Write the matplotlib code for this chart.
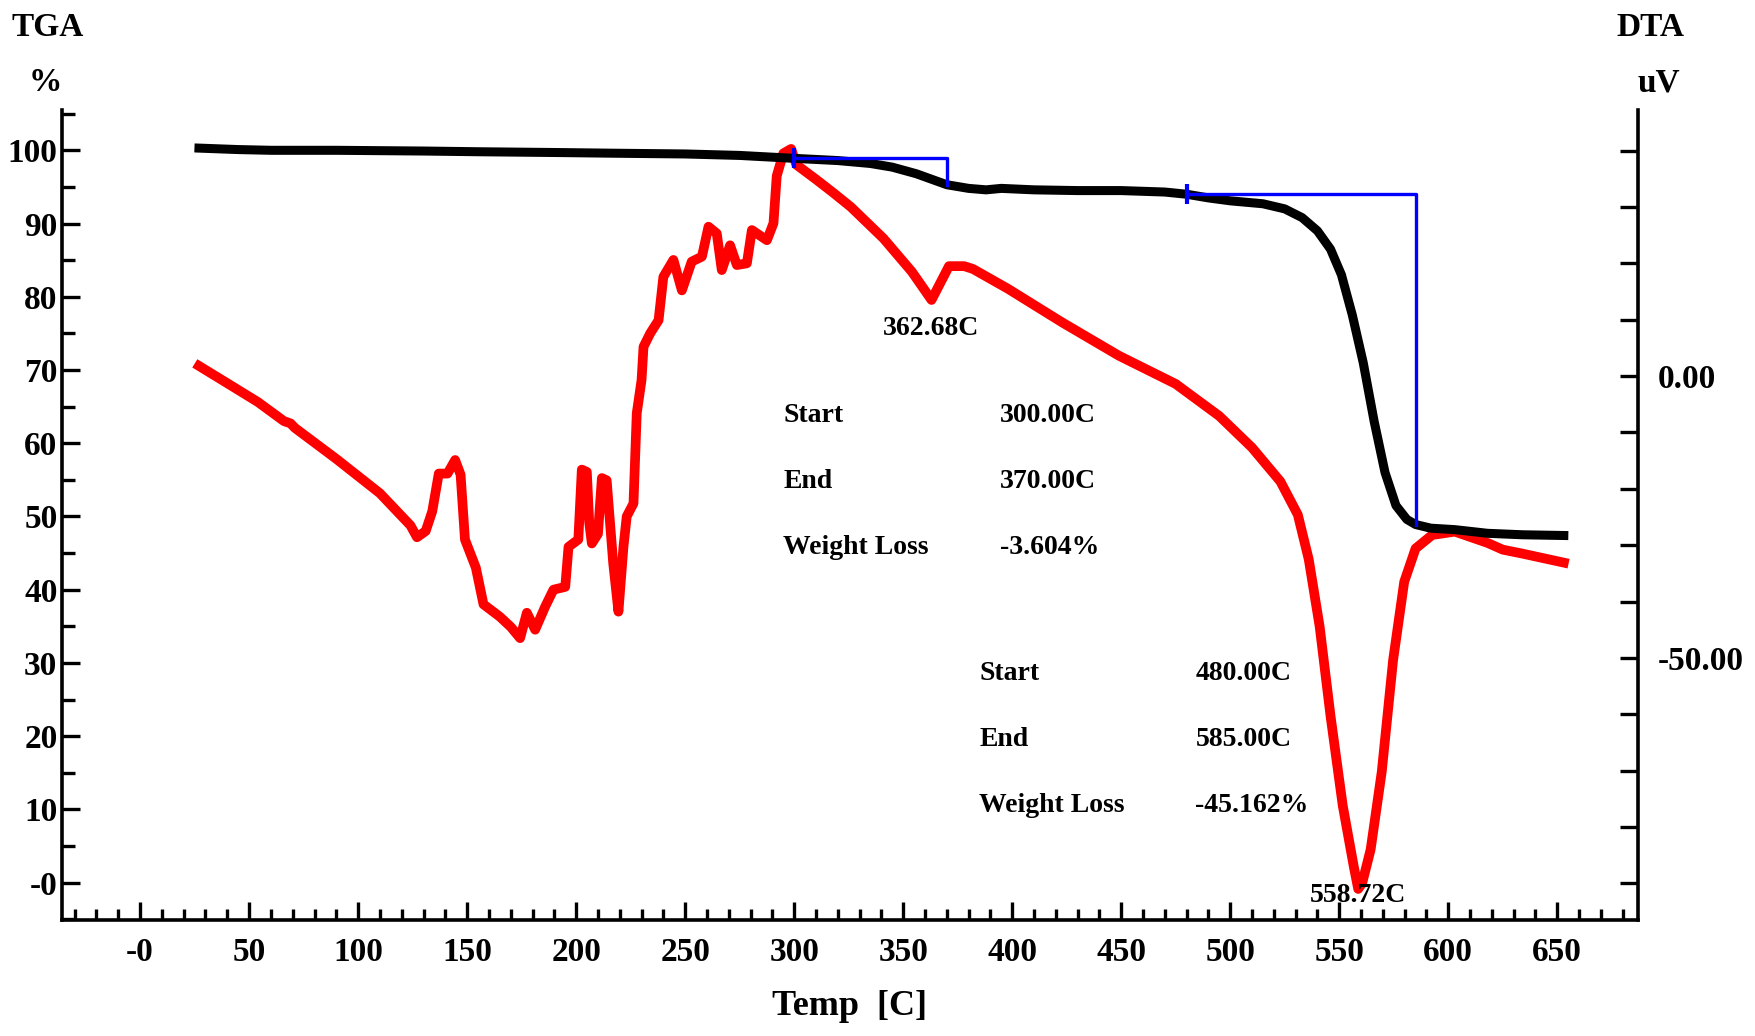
import matplotlib
matplotlib.use("Agg")
import matplotlib.pyplot as plt
from matplotlib.ticker import MultipleLocator, FixedLocator, FixedFormatter

plt.rcParams['font.family'] = ['Liberation Serif', 'DejaVu Serif']
plt.rcParams['font.weight'] = 'bold'

# TGA curve, weight %
tga_temp = [27, 45, 60, 90, 130, 156, 190, 218, 250, 275, 300, 320, 335, 345, 356,
            370, 380, 388, 395, 410, 430, 450, 470, 480, 490, 500, 515, 525, 533,
            540, 546, 551, 556, 561, 566, 571, 576, 581, 585, 592, 603, 618, 634, 653]
tga_wt = [100.3, 100.1, 100.0, 100.0, 99.9, 99.8, 99.7, 99.6, 99.5, 99.3, 98.9, 98.6,
          98.2, 97.7, 96.8, 95.3, 94.8, 94.6, 94.8, 94.6, 94.5, 94.5, 94.3, 94.0, 93.5,
          93.1, 92.7, 92.0, 90.8, 89.0, 86.5, 83.0, 77.5, 71.0, 63.0, 56.0, 51.5, 49.6,
          48.9, 48.4, 48.2, 47.7, 47.5, 47.4]

# DTA curve, uV
dta_temp = [27, 38, 54, 66, 69, 71, 90, 110, 124, 127, 131, 134, 137, 141, 144.5, 147,
            149, 154, 157.5, 165, 170, 174.3, 177.4, 181.2, 185.8, 189.6, 195, 196.5,
            201, 202.6, 204.9, 206, 207.2, 210, 211.8, 214, 217, 219.4, 221.7, 223.2,
            226.3, 227.8, 230, 230.9, 234, 237.8, 240, 244.6, 248.5, 253, 257.7, 260.7,
            264.5, 266.8, 270.6, 273.7, 278.3, 280.6, 287.5, 290.5, 292, 295, 298.6,
            301, 310, 318, 326, 341, 354, 363, 367, 371, 378, 382, 398, 423, 449, 475,
            495, 510, 523, 531, 536, 541, 546, 551.6, 556.7, 558.7, 560.5, 564.4,
            569.5, 574.7, 579.8, 585, 592.6, 603, 618, 625, 634, 653]
dta_uv = [1.8, -0.8, -4.6, -8.0, -8.4, -9.2, -14.7, -20.8, -26.5, -28.6, -27.5, -24.0,
          -17.3, -17.3, -14.9, -17.5, -29.0, -34.0, -40.5, -42.7, -44.5, -46.5, -42.0,
          -45.0, -40.9, -37.9, -37.4, -30.3, -29.0, -16.6, -17.0, -26.0, -29.7, -28.0,
          -18.1, -18.5, -33.2, -41.8, -30.3, -24.9, -22.6, -6.6, -0.7, 5.2, 7.6, 9.9,
          17.6, 20.6, 15.2, 20.3, 21.2, 26.5, 25.3, 18.8, 23.2, 19.7, 20.0, 25.9, 24.1,
          27.1, 35.5, 39.5, 40.3, 37.5, 34.9, 32.5, 30.0, 24.4, 18.5, 13.5, 16.5, 19.5,
          19.5, 19.0, 15.5, 9.5, 3.6, -1.4, -7.1, -12.7, -18.7, -24.6, -32.5, -44.4,
          -60.3, -76.2, -87.1, -91.0, -90.0, -84.0, -70.2, -50.4, -36.5, -30.6, -28.2,
          -27.6, -29.6, -30.8, -31.5, -33.1]

# weight loss steps
step_start = [300.0, 480.0]
step_end = [370.0, 585.0]
step_level = [98.9, 94.0]
step_loss = [3.604, 45.162]

# DTA peaks
peak_temp = [362.68, 558.72]

x_ticks = list(range(0, 651, 50))
x_tick_labels = ['-0'] + [str(v) for v in x_ticks[1:]]
y_ticks = list(range(0, 101, 10))
y_tick_labels = ['-0'] + [str(v) for v in y_ticks[1:]]
dta_ticks = [0.0, -50.0]
dta_tick_labels = ['0.00', '-50.00']

fig = plt.figure(figsize=(17.55, 10.36), dpi=100)
ax = fig.add_axes([0.0351, 0.112, 0.8982, 0.7818])
ax2 = ax.twinx()
ax.set_zorder(ax2.get_zorder() + 1)
ax.patch.set_visible(False)

ax2.plot(dta_temp, dta_uv, color='#ff0000', lw=7)
ax.plot(tga_temp, tga_wt, color='black', lw=6.5)

for s, e, lev, loss in zip(step_start, step_end, step_level, step_loss):
    ax.plot([s, e, e], [lev, lev, lev - loss], color='#0000ff', lw=2.4)
    ax.plot([s], [lev], marker='|', color='#0000ff', markersize=14, mew=3)

ax.set_xlim(-36, 687)
ax.set_ylim(-5.1, 105.5)
ax2.set_ylim(-96.5, 47.2)

for a in (ax, ax2):
    a.spines['top'].set_visible(False)
ax.spines['right'].set_visible(False)
ax2.spines['left'].set_visible(False)
ax2.spines['bottom'].set_visible(False)
for sp in ('left', 'bottom'):
    ax.spines[sp].set_linewidth(2.6)
ax2.spines['right'].set_linewidth(2.6)

ax.xaxis.set_major_locator(FixedLocator(x_ticks))
ax.xaxis.set_major_formatter(FixedFormatter(x_tick_labels))
ax.xaxis.set_minor_locator(MultipleLocator(10))
ax.yaxis.set_major_locator(FixedLocator(y_ticks))
ax.yaxis.set_major_formatter(FixedFormatter(y_tick_labels))
ax.yaxis.set_minor_locator(MultipleLocator(5))
ax2.yaxis.set_major_locator(FixedLocator(dta_ticks))
ax2.yaxis.set_major_formatter(FixedFormatter(dta_tick_labels))
ax2.yaxis.set_minor_locator(MultipleLocator(10))

ax.tick_params(axis='x', which='major', direction='in', length=13, width=2.4,
               labelsize=24, pad=12)
ax.tick_params(axis='x', which='minor', direction='in', length=8, width=2.4)
ax.tick_params(axis='y', which='major', direction='in', length=13, width=2.4,
               labelsize=24, pad=3)
ax.tick_params(axis='y', which='minor', direction='in', length=9, width=2.4)
ax2.tick_params(axis='y', which='major', direction='in', length=13, width=2.4,
                labelsize=24, pad=14)
ax2.tick_params(axis='y', which='minor', direction='in', length=13, width=2.4)

ax.set_xlabel('Temp  [C]', fontsize=26, fontweight='bold', labelpad=16)

fig.text(0.027, 0.973, 'TGA', fontsize=24, ha='center', va='center')
fig.text(0.0256, 0.92, '%', fontsize=24, ha='center', va='center')
fig.text(0.9407, 0.973, 'DTA', fontsize=24, ha='center', va='center')
fig.text(0.945, 0.92, 'uV', fontsize=24, ha='center', va='center')

# annotation blocks
block_x = [(295, 394.5), (385, 484)]
block_y = [(63.8, 54.8, 45.8), (28.5, 19.6, 10.5)]
for (lx, vx), ys, s, e, loss in zip(block_x, block_y, step_start, step_end, step_loss):
    rows = [('Start', f'{s:.2f}C'), ('End', f'{e:.2f}C'), ('Weight Loss', f'-{loss:.3f}%')]
    for y, (lab, val) in zip(ys, rows):
        ax.text(lx, y, lab, fontsize=20, ha='left', va='center')
        ax.text(vx, y, val, fontsize=20, ha='left', va='center')

peak_label_y = [75.7, -1.8]
for t, y in zip(peak_temp, peak_label_y):
    ax.text(t, y, f'{t:.2f}C', fontsize=20, ha='center', va='center')

fig.savefig('out.png', dpi=100)
